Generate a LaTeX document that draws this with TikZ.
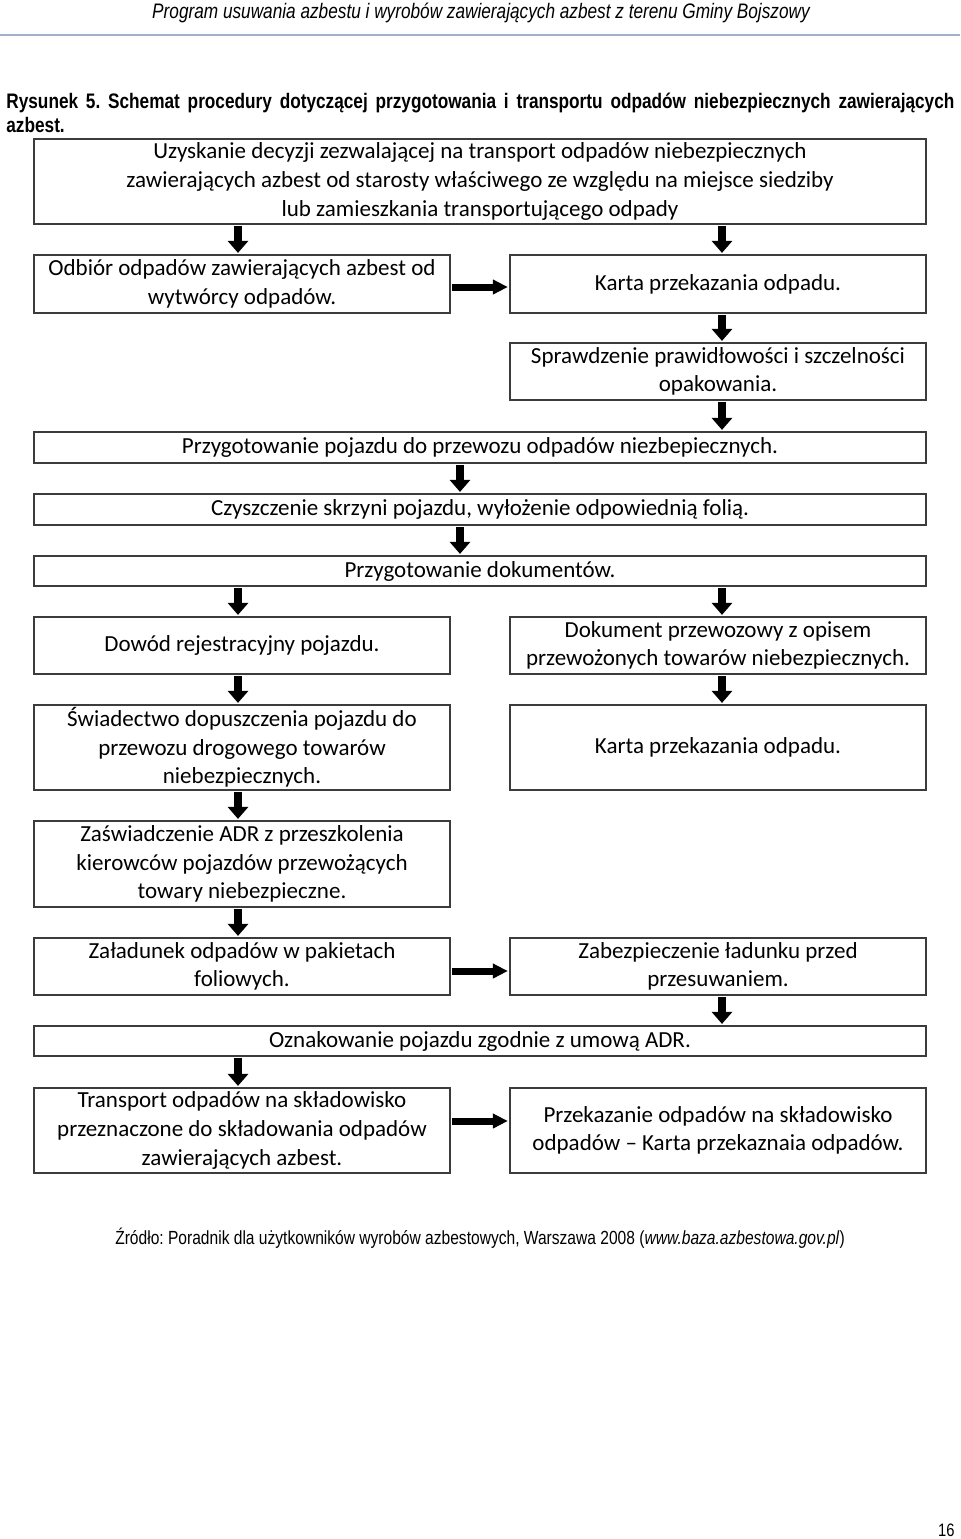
\documentclass[tikz,border=0pt]{standalone}
\usepackage{fontspec}
\setmainfont{Carlito}
\newfontfamily\narrowfont[FakeStretch=0.82]{Liberation Sans}
\usetikzlibrary{arrows.meta}
\definecolor{hdrline}{RGB}{160,178,198}
\definecolor{boxline}{RGB}{60,60,60}
\tikzset{
 box/.style={draw=boxline, line width=0.9pt, align=center, inner sep=0pt, font=\fontsize{11.5}{14.3}\selectfont},
 wide/.style={box, minimum width=446pt},
 half/.style={box, minimum width=208pt},
 varrow/.style={line width=4pt, -{Triangle[width=10pt,length=6pt]}, shorten >=0.6pt, shorten <=0.6pt},
 harrow/.style={line width=3.5pt, -{Triangle[width=7pt,length=7.5pt]}, shorten >=0.6pt, shorten <=0.6pt},
 caption/.style={inner sep=0pt, font=\narrowfont\fontsize{9.5}{11}\selectfont}
}
\frenchspacing
\begin{document}
\begin{tikzpicture}[x=0.5pt,y=-0.5pt]
\useasboundingbox[fill=white] (0,0) rectangle (960,1539);
% header
\node[caption, font=\narrowfont\itshape\fontsize{10.5}{12}\selectfont, anchor=base] (hdr) at (481,18) {Program usuwania azbestu i wyrobów zawierających azbest z terenu Gminy Bojszowy};
\coordinate (hl) at (0,35);
\coordinate (hr) at (960,35);
\draw[hdrline, line width=1pt] (hl) -- (hr);
% title
\node[caption, font=\narrowfont\bfseries\fontsize{10.5}{12}\selectfont, anchor=base west] (title1) at (6,108.5) {\makebox[474pt][s]{Rysunek 5. Schemat procedury dotyczącej przygotowania i transportu odpadów niebezpiecznych zawierających}};
\node[caption, font=\narrowfont\bfseries\fontsize{10.5}{12}\selectfont, anchor=base west] (title2) at (6,132) {azbest.};
% x positions for arrows
\coordinate (xL) at (238,0);
\coordinate (xR) at (722,0);
\coordinate (xC) at (460,0);
% boxes
\node[wide, minimum height=42.5pt] (top) at (480,181.5) {Uzyskanie decyzji zezwalającej na transport odpadów niebezpiecznych\\zawierających azbest od starosty właściwego ze względu na miejsce siedziby\\lub zamieszkania transportującego odpady};
\node[half, minimum height=29pt] (odb) at (242,284) {Odbiór odpadów zawierających azbest od\\wytwórcy odpadów.};
\node[half, minimum height=29pt] (karta1) at (718,284) {Karta przekazania odpadu.};
\node[half, minimum height=28.5pt] (spraw) at (718,371.5) {Sprawdzenie prawidłowości i szczelności\\opakowania.};
\node[wide, minimum height=15.5pt] (pojazd) at (480,447.5) {Przygotowanie pojazdu do przewozu odpadów niezbepiecznych.};
\node[wide, minimum height=15.5pt] (czysz) at (480,509.5) {Czyszczenie skrzyni pojazdu, wyłożenie odpowiednią folią.};
\node[wide, minimum height=15pt] (dok) at (480,571) {Przygotowanie dokumentów.};
\node[half, minimum height=28.5pt] (dowod) at (242,645.5) {Dowód rejestracyjny pojazdu.};
\node[half, minimum height=28.5pt] (dokprz) at (718,645.5) {Dokument przewozowy z opisem\\przewożonych towarów niebezpiecznych.};
\node[half, minimum height=42.5pt] (swiad) at (242,747.5) {Świadectwo dopuszczenia pojazdu do\\przewozu drogowego towarów\\niebezpiecznych.};
\node[half, minimum height=42.5pt] (karta2) at (718,747.5) {Karta przekazania odpadu.};
\node[half, minimum height=43pt] (zasw) at (242,864) {Zaświadczenie ADR z przeszkolenia\\kierowców pojazdów przewożących\\towary niebezpieczne.};
\node[half, minimum height=28.5pt] (zalad) at (242,966.5) {Załadunek odpadów w pakietach\\foliowych.};
\node[half, minimum height=28.5pt] (zabezp) at (718,966.5) {Zabezpieczenie ładunku przed\\przesuwaniem.};
\node[wide, minimum height=15pt] (oznak) at (480,1041) {Oznakowanie pojazdu zgodnie z umową ADR.};
\node[half, minimum height=42.5pt] (transp) at (242,1130.5) {Transport odpadów na składowisko\\przeznaczone do składowania odpadów\\zawierających azbest.};
\node[half, minimum height=42.5pt] (przek) at (718,1130.5) {Przekazanie odpadów na składowisko\\odpadów – Karta przekaznaia odpadów.};
% arrows
\draw[varrow] (top.south -| xL) -- (odb.north -| xL);
\draw[varrow] (top.south -| xR) -- (karta1.north -| xR);
\draw[harrow] ([yshift=-1.5pt]odb.east) -- ([yshift=-1.5pt]karta1.west);
\draw[varrow] (karta1.south -| xR) -- (spraw.north -| xR);
\draw[varrow] (spraw.south -| xR) -- (pojazd.north -| xR);
\draw[varrow] (pojazd.south -| xC) -- (czysz.north -| xC);
\draw[varrow] (czysz.south -| xC) -- (dok.north -| xC);
\draw[varrow] (dok.south -| xL) -- (dowod.north -| xL);
\draw[varrow] (dok.south -| xR) -- (dokprz.north -| xR);
\draw[varrow] (dowod.south -| xL) -- (swiad.north -| xL);
\draw[varrow] (dokprz.south -| xR) -- (karta2.north -| xR);
\draw[varrow] (swiad.south -| xL) -- (zasw.north -| xL);
\draw[varrow] (zasw.south -| xL) -- (zalad.north -| xL);
\draw[harrow] ([yshift=-2.25pt]zalad.east) -- ([yshift=-2.25pt]zabezp.west);
\draw[varrow] (zabezp.south -| xR) -- (oznak.north -| xR);
\draw[varrow] (oznak.south -| xL) -- (transp.north -| xL);
\draw[harrow] ([yshift=4.75pt]transp.east) -- ([yshift=4.75pt]przek.west);
% footer
\node[caption, anchor=base] (src) at (480,1244) {Źródło: Poradnik dla użytkowników wyrobów azbestowych, Warszawa 2008 (\textit{www.baza.azbestowa.gov.pl})};
\node[caption, font=\narrowfont\fontsize{9}{11}\selectfont, anchor=base east] (pg) at (955,1536) {16};
\end{tikzpicture}
\end{document}
